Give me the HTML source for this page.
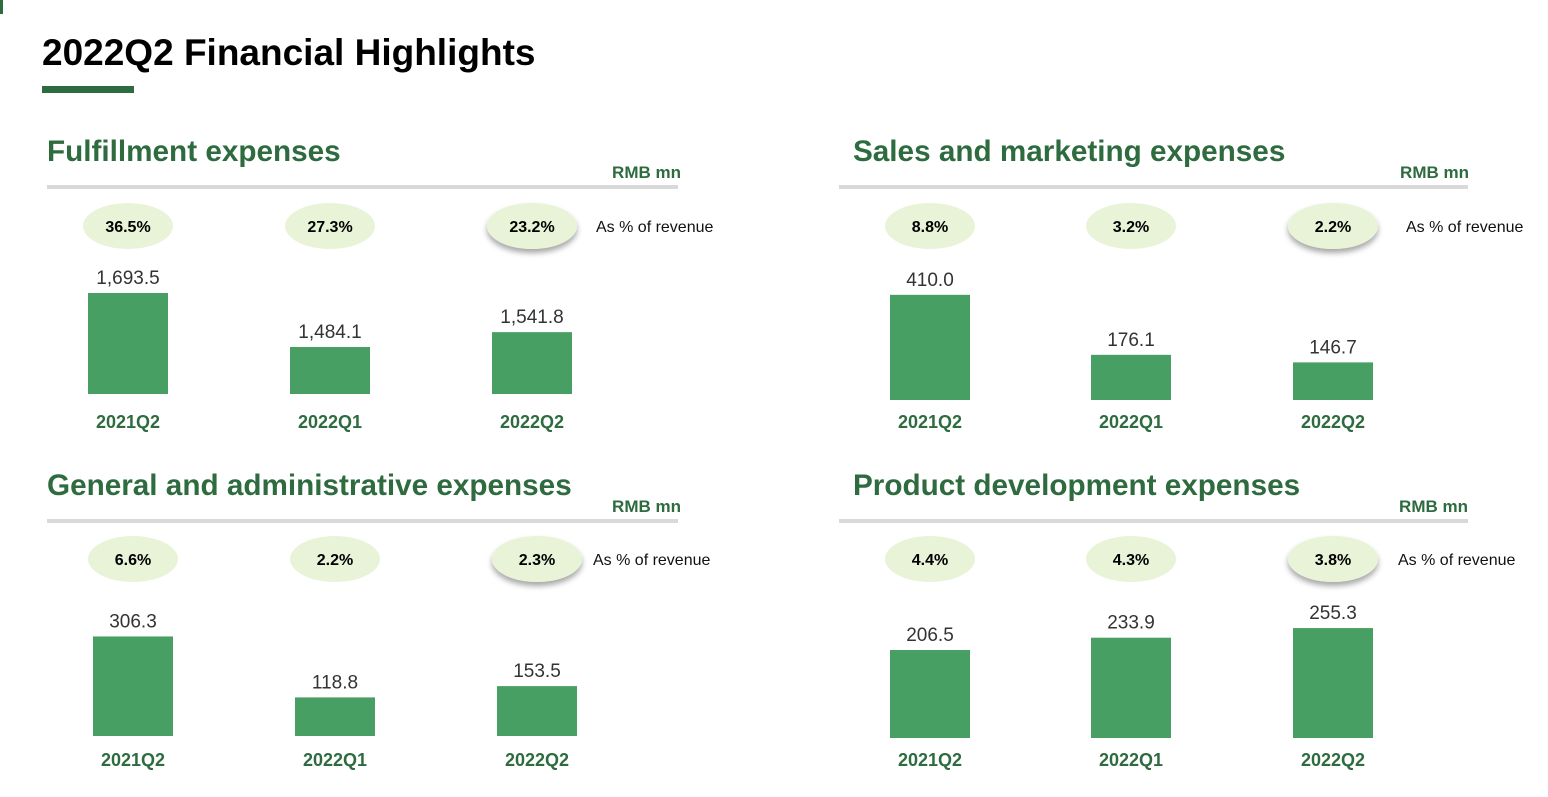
<!DOCTYPE html>
<html><head><meta charset="utf-8"><style>
body{margin:0;background:#fff;width:1548px;height:792px;overflow:hidden;font-family:"Liberation Sans",sans-serif}
</style></head><body>
<svg id="c" width="1548" height="792" font-family="Liberation Sans, sans-serif">
<defs><filter id="sh" x="-30%" y="-30%" width="160%" height="180%"><feDropShadow dx="0" dy="4" stdDeviation="3" flood-color="#000" flood-opacity="0.35"/></filter></defs>
<rect x="0" y="0" width="3" height="14" fill="#2e6b3f"/>
<text x="42" y="65" font-size="37" font-weight="bold" fill="#000">2022Q2 Financial Highlights</text>
<rect x="42" y="86" width="92" height="7" fill="#2e6b3f"/>
</svg>
<script>
const categories=["2021Q2","2022Q1","2022Q2"];
const fulfillmentValues=[1693.5,1484.1,1541.8];
const fulfillmentLabels=["1,693.5","1,484.1","1,541.8"];
const fulfillmentPct=["36.5%","27.3%","23.2%"];
const salesValues=[410.0,176.1,146.7];
const salesLabels=["410.0","176.1","146.7"];
const salesPct=["8.8%","3.2%","2.2%"];
const gaValues=[306.3,118.8,153.5];
const gaLabels=["306.3","118.8","153.5"];
const gaPct=["6.6%","2.2%","2.3%"];
const pdValues=[206.5,233.9,255.3];
const pdLabels=["206.5","233.9","255.3"];
const pdPct=["4.4%","4.3%","3.8%"];
const NS="http://www.w3.org/2000/svg";
const svg=document.getElementById('c');
function mk(t,a,txt){const e=document.createElementNS(NS,t);for(const k in a)e.setAttribute(k,a[k]);if(txt!==undefined)e.textContent=txt;svg.appendChild(e);return e;}
const panels=[
 {title:"Fulfillment expenses",key:"fulfillment",vals:fulfillmentValues,labs:fulfillmentLabels,pct:fulfillmentPct,tx:47,ty:161,lx1:47,lx2:678,ly:187,rmbX:681,rmbY:178,cx:[128,330,532],ey:226,asX:596,base:394,min:1302,scale:0.258,catY:428},
 {title:"Sales and marketing expenses",key:"sales",vals:salesValues,labs:salesLabels,pct:salesPct,tx:853,ty:161,lx1:839,lx2:1468,ly:187,rmbX:1469,rmbY:178,cx:[930,1131,1333],ey:226,asX:1406,base:400,min:0,scale:0.2565,catY:428},
 {title:"General and administrative expenses",key:"ga",vals:gaValues,labs:gaLabels,pct:gaPct,tx:47,ty:495,lx1:47,lx2:678,ly:521,rmbX:681,rmbY:512,cx:[133,335,537],ey:559,asX:593,base:736,min:0,scale:0.325,catY:766},
 {title:"Product development expenses",key:"pd",vals:pdValues,labs:pdLabels,pct:pdPct,tx:853,ty:495,lx1:839,lx2:1468,ly:521,rmbX:1468,rmbY:512,cx:[930,1131,1333],ey:559,asX:1398,base:738,min:11,scale:0.45,catY:766}
];
panels.forEach(p=>{
 let e=mk('text',{x:p.tx,y:p.ty,'font-size':29.7,'font-weight':'bold',fill:'#2e6b3f'},p.title);
 
 
 e=mk('rect',{x:p.lx1,y:p.ly-2,width:p.lx2-p.lx1,height:4,fill:'#d9d9d9'});
 
 
 e=mk('text',{x:p.rmbX,y:p.rmbY,'font-size':17,'font-weight':'bold',fill:'#2e6b3f','text-anchor':'end'},'RMB mn');
 
 
 e=mk('text',{x:p.asX,y:p.ey+6,'font-size':16,fill:'#111'},'As % of revenue');
 
 
 categories.forEach((c,i)=>{
  const x=p.cx[i];
  const attrs={cx:x,cy:p.ey,rx:45,ry:23,fill:'#e8f3d8'};
  if(i===2)attrs.filter='url(#sh)';
  e=mk('ellipse',attrs);
  
  
  e=mk('text',{x:x,y:p.ey+6,'font-size':16,'font-weight':'bold',fill:'#000','text-anchor':'middle'},p.pct[i]);
  
  
  const h=(p.vals[i]-p.min)*p.scale;
  e=mk('rect',{x:x-40,y:p.base-h,width:80,height:h,fill:'#489f63'});
  
  
  e=mk('text',{x:x,y:p.base-h-9,'font-size':19,fill:'#333','text-anchor':'middle'},p.labs[i]);
  
  
  e=mk('text',{x:x,y:p.catY,'font-size':18,'font-weight':'bold',fill:'#2e6b3f','text-anchor':'middle'},c);
  
  
 });
});
</script>
</body></html>
